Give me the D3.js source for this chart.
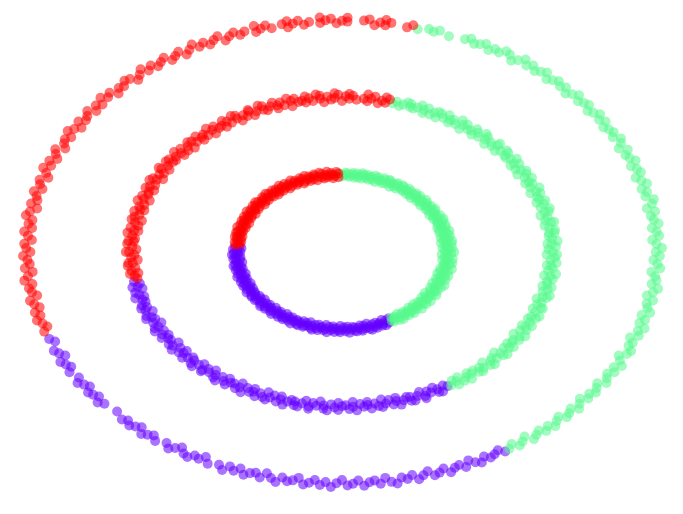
<!DOCTYPE html>
<html>
<head>
<meta charset="utf-8">
<style>
  html, body { margin: 0; padding: 0; background: #fff; overflow: hidden; }
</style>
<script src="https://cdn.jsdelivr.net/npm/d3@7"></script>
</head>
<body>
<script>
/***** Data : [angle (deg), radius], one array per class *****/
var classNames = ["purple", "green", "red"];
var classColors = ["#6400ff", "#55f98c", "#ff0000"];

var redPoints = [
  // inner ring
  [92,1.02],[92,0.97],[93,1.04],[94,0.99],[95,1.01],[95,0.96],[96,1.03],[97,1.00],[98,0.98],[98,1.05],
  [99,1.01],[100,0.97],[101,1.03],[101,0.99],[102,1.05],[103,1.00],[104,0.96],[105,1.02],[105,1.04],[106,0.98],
  [107,1.01],[108,0.97],[108,1.03],[109,1.00],[110,1.05],[111,0.98],[112,1.02],[112,0.96],[113,1.04],[114,1.00],
  [115,0.99],[116,1.03],[116,0.97],[117,1.01],[118,1.05],[119,0.98],[120,1.02],[121,1.00],[121,0.96],[122,1.04],
  [123,0.99],[124,1.02],[125,0.97],[125,1.05],[126,1.01],[127,0.98],[128,1.03],[129,1.00],[129,0.96],[130,1.04],
  [131,1.01],[132,0.97],[133,1.03],[133,0.99],[134,1.05],[135,1.00],[136,0.97],[137,1.02],[137,1.04],[138,0.98],
  [139,1.01],[140,0.96],[141,1.03],[141,1.00],[142,1.05],[143,0.98],[144,1.02],[145,0.97],[145,1.04],[146,1.00],
  [147,0.99],[148,1.03],[149,0.96],[149,1.01],[150,1.05],[151,0.98],[152,1.02],[153,1.00],[153,0.97],[154,1.04],
  [155,0.99],[156,1.02],[157,0.96],[157,1.04],[158,1.01],[159,0.98],[160,1.03],[161,1.00],[161,0.97],[162,1.05],
  [163,1.01],[164,0.98],[165,1.03],[165,0.99],[166,1.04],[167,1.00],[168,0.97],[169,1.02],[169,1.04],[170,0.98],
  [171,1.01],[172,0.97],[173,1.03],[173,1.00],[174,0.98],[175,1.02],
  // middle ring
  [77,2.03],[78,1.98],[78,2.05],[79,2.00],[80,1.96],[81,2.04],[82,2.01],[83,1.97],[83,2.06],[84,2.00],
  [86,1.98],[87,2.03],[88,2.05],[88,1.99],[89,2.02],[90,1.96],[91,2.04],[92,2.00],[92,2.06],[93,1.98],
  [94,2.02],[95,1.95],[96,2.04],[96,2.00],[97,2.06],[98,1.98],[99,2.02],[100,1.97],[100,2.05],[101,2.00],
  [102,1.99],[103,2.04],[104,1.95],[104,2.02],[105,2.06],[106,1.98],[107,2.03],[108,2.00],[108,1.96],[109,2.05],
  [110,2.01],[111,1.97],[112,2.04],[112,1.99],[113,2.06],[114,2.00],[115,1.96],[116,2.03],[116,2.05],[117,1.98],
  [118,2.01],[119,1.95],[120,2.04],[120,2.00],[121,2.06],[122,1.98],[123,2.02],[124,1.96],[124,2.05],[125,2.00],
  [126,1.99],[127,2.04],[128,1.95],[128,2.01],[129,2.06],[130,1.98],[131,2.02],[132,2.00],[132,1.96],[133,2.05],
  [134,1.99],[135,2.03],[136,1.95],[136,2.05],[137,2.01],[138,1.97],[139,2.04],[140,2.00],[140,1.96],[141,2.06],
  [142,2.01],[143,1.98],[144,2.04],[144,1.99],[145,2.05],[146,2.00],[147,1.96],[148,2.03],[148,2.06],[149,1.98],
  [150,2.01],[151,1.95],[152,2.04],[152,2.00],[153,2.06],[154,1.98],[155,2.02],[156,1.96],[156,2.05],[157,2.00],
  [158,1.99],[159,2.04],[160,1.95],[160,2.01],[161,2.06],[162,1.98],[163,2.02],[164,2.00],[164,1.96],[165,2.05],
  [166,1.99],[167,2.03],[168,1.95],[168,2.05],[169,2.01],[170,1.97],[171,2.04],[172,2.00],[172,1.96],[173,2.06],
  [174,2.01],[175,1.98],[176,2.04],[176,1.99],[177,2.05],[178,2.00],[179,1.96],[180,2.03],[180,2.06],[181,1.98],
  [182,2.01],[183,1.95],[184,2.04],[184,2.00],[185,2.05],[186,1.98],[187,2.02],[188,1.96],[188,2.04],[189,2.00],
  [190,1.98],
  // outer ring
  [77,3.02],[78,2.98],[81,3.01],[82,2.97],[82,3.04],[83,3.00],[84,2.96],[85,3.03],[86,3.01],[89,2.99],
  [89,3.04],[90,3.00],[91,2.97],[92,3.03],[93,3.01],[94,2.98],[94,3.05],[96,3.00],[97,2.97],[98,3.03],
  [99,3.00],[100,2.96],[100,3.04],[101,3.01],[103,2.98],[104,3.03],[105,3.00],[106,2.97],[106,3.05],[108,3.01],
  [109,2.98],[110,3.03],[111,3.00],[112,2.96],[113,3.04],[114,3.01],[115,2.97],[116,3.02],[117,2.99],[118,3.05],
  [119,3.00],[120,2.96],[121,3.03],[122,3.00],[123,2.97],[124,3.04],[125,3.01],[126,2.98],[127,3.03],[128,2.99],
  [129,3.05],[130,3.00],[131,2.96],[132,3.02],[133,3.04],[134,2.99],[135,3.01],[136,2.96],[137,3.03],[138,3.00],
  [139,3.05],[140,2.98],[141,3.02],[142,2.97],[143,3.04],[144,3.00],[145,2.98],[146,3.03],[147,2.96],[148,3.01],
  [149,3.05],[150,2.98],[151,3.02],[152,3.00],[153,2.96],[154,3.04],[155,3.01],[156,2.97],[157,3.03],[158,2.99],
  [159,3.05],[160,3.00],[161,2.96],[162,3.03],[163,3.01],[164,2.97],[165,3.04],[166,3.00],[167,2.98],[168,3.03],
  [169,2.96],[170,3.02],[171,3.05],[172,2.98],[173,3.01],[174,2.97],[175,3.04],[176,3.00],[177,2.96],[178,3.03],
  [179,3.01],[180,2.97],[181,3.04],[182,3.00],[183,2.98],[184,3.03],[185,2.96],[186,3.01],[187,3.05],[188,2.98],
  [189,3.02],[190,3.00],[191,2.96],[192,3.04],[193,3.01],[194,2.97],[195,3.03],[196,2.99],[197,3.04],[198,3.00],
  [199,2.97],[200,3.02]
];

var purplePoints = [
  // inner ring
  [176,0.98],[177,1.02],[177,0.96],[178,1.04],[179,1.00],[180,0.97],[181,1.03],[181,0.99],[182,1.05],[183,1.01],
  [184,0.97],[185,1.02],[185,1.04],[186,0.98],[187,1.01],[188,0.96],[189,1.03],[189,1.00],[190,1.05],[191,0.98],
  [192,1.02],[193,0.97],[193,1.04],[194,1.00],[195,0.99],[196,1.03],[197,0.96],[197,1.01],[198,1.05],[199,0.98],
  [200,1.02],[201,1.00],[201,0.97],[202,1.04],[203,0.99],[204,1.02],[205,0.96],[205,1.04],[206,1.01],[207,0.98],
  [208,1.03],[209,1.00],[209,0.97],[210,1.05],[211,1.01],[212,0.98],[213,1.03],[213,0.99],[214,1.04],[215,1.00],
  [216,0.97],[217,1.02],[217,1.04],[218,0.98],[219,1.01],[220,0.96],[221,1.03],[221,1.00],[222,1.05],[223,0.98],
  [224,1.02],[225,0.97],[225,1.04],[226,1.00],[227,0.99],[228,1.03],[229,0.96],[229,1.01],[230,1.05],[231,0.98],
  [232,1.02],[233,1.00],[233,0.97],[234,1.04],[235,0.99],[236,1.02],[237,0.96],[237,1.04],[238,1.01],[239,0.98],
  [240,1.03],[241,1.00],[241,0.97],[242,1.05],[243,1.01],[244,0.98],[245,1.03],[245,0.99],[246,1.04],[247,1.00],
  [248,0.97],[249,1.02],[249,1.04],[250,0.98],[251,1.01],[252,0.96],[253,1.03],[253,1.00],[254,1.05],[255,0.98],
  [256,1.02],[257,0.97],[257,1.04],[258,1.00],[259,0.99],[260,1.03],[261,0.96],[261,1.01],[262,1.05],[263,0.98],
  [264,1.02],[265,1.00],[265,0.97],[266,1.04],[267,0.99],[268,1.02],[269,0.96],[269,1.04],[270,1.01],[271,0.98],
  [272,1.03],[273,1.00],[273,0.97],[274,1.05],[275,1.01],[276,0.98],[277,1.03],[277,0.99],[278,1.04],[279,1.00],
  [280,0.97],[281,1.02],[281,1.04],[282,0.98],[283,1.01],[284,0.96],[285,1.03],[285,1.00],[286,1.05],[287,0.98],
  [288,1.02],[289,0.97],[289,1.04],[290,1.00],[291,0.99],[292,1.03],[293,0.96],[293,1.01],[294,1.04],[295,0.98],
  [296,1.02],[297,1.00],[297,0.97],
  // middle ring
  [191,2.02],[192,1.97],[193,2.05],[193,2.00],[194,1.96],[195,2.04],[196,2.01],[197,1.97],[197,2.06],[198,2.00],
  [199,1.98],[200,2.03],[201,2.05],[201,1.99],[202,2.02],[203,1.96],[204,2.04],[205,2.00],[205,2.06],[206,1.98],
  [207,2.02],[208,1.95],[209,2.04],[209,2.00],[210,2.06],[211,1.98],[212,2.02],[213,1.97],[213,2.05],[214,2.00],
  [215,1.99],[216,2.04],[217,1.95],[217,2.02],[218,2.06],[219,1.98],[220,2.03],[221,2.00],[221,1.96],[222,2.05],
  [223,2.01],[224,1.97],[225,2.04],[225,1.99],[226,2.06],[227,2.00],[228,1.96],[229,2.03],[229,2.05],[230,1.98],
  [231,2.01],[232,1.95],[233,2.04],[233,2.00],[234,2.06],[235,1.98],[236,2.02],[237,1.96],[237,2.05],[238,2.00],
  [239,1.99],[240,2.04],[241,1.95],[241,2.01],[242,2.06],[243,1.98],[244,2.02],[245,2.00],[245,1.96],[246,2.05],
  [247,1.99],[248,2.03],[249,1.95],[249,2.05],[250,2.01],[251,1.97],[252,2.04],[253,2.00],[253,1.96],[254,2.06],
  [255,2.01],[256,1.98],[257,2.04],[257,1.99],[258,2.05],[259,2.00],[260,1.96],[261,2.03],[261,2.06],[262,1.98],
  [263,2.01],[264,1.95],[265,2.04],[265,2.00],[266,2.06],[267,1.98],[268,2.02],[269,1.96],[269,2.05],[270,2.00],
  [271,1.99],[272,2.04],[273,1.95],[273,2.01],[274,2.06],[275,1.98],[276,2.02],[277,2.00],[277,1.96],[278,2.05],
  [279,1.99],[280,2.03],[281,1.95],[281,2.05],[282,2.01],[283,1.97],[284,2.04],[285,2.00],[285,1.96],[286,2.06],
  [287,2.01],[288,1.98],[289,2.04],[289,1.99],[290,2.05],[291,2.00],[292,1.96],[293,2.03],[293,2.06],[294,1.98],
  [295,2.01],[296,1.96],[297,2.04],[297,2.00],[298,2.05],[299,1.98],[300,2.01],
  // outer ring
  [202,3.01],[203,2.97],[205,3.03],[206,3.00],[207,2.96],[208,3.04],[209,3.01],[210,2.98],[211,3.03],[213,2.99],
  [214,3.04],[215,3.00],[216,2.97],[217,3.03],[218,3.01],[219,2.98],[220,3.04],[221,3.00],[224,2.98],[226,3.02],
  [227,2.99],[228,3.03],[229,3.00],[230,2.97],[231,3.04],[232,3.01],[233,2.98],[234,3.03],[236,2.99],[237,3.04],
  [238,3.00],[239,2.96],[240,3.02],[241,3.04],[242,2.99],[243,3.01],[244,2.96],[245,3.03],[247,3.00],[248,3.05],
  [249,2.98],[250,3.02],[251,2.97],[252,3.04],[253,3.00],[254,2.98],[255,3.03],[256,2.96],[257,3.01],[258,3.05],
  [259,2.98],[260,3.02],[261,3.00],[262,2.96],[263,3.04],[264,3.01],[265,2.97],[266,3.03],[267,2.99],[268,3.05],
  [269,3.00],[270,2.96],[271,3.03],[272,3.01],[273,2.97],[274,3.04],[275,3.00],[276,2.98],[277,3.03],[278,2.96],
  [279,3.02],[280,3.05],[281,2.98],[282,3.01],[283,2.97],[284,3.04],[285,3.00],[286,2.96],[287,3.03],[288,3.01],
  [289,2.97],[290,3.04],[291,3.00],[292,2.98],[293,3.03],[294,2.96],[295,3.01],[296,3.04],[297,2.98],[298,3.02],
  [299,3.00],[300,2.97],[301,3.02]
];

var greenPoints = [
  // inner ring
  [-62,1.01],[-61,0.97],[-61,1.03],[-60,1.00],[-59,0.98],[-58,1.04],[-57,0.96],[-57,1.01],[-56,1.05],[-55,0.98],
  [-54,1.02],[-53,1.00],[-53,0.97],[-52,1.04],[-51,0.99],[-50,1.02],[-49,0.96],[-49,1.05],[-48,1.01],[-47,0.98],
  [-46,1.03],[-45,1.00],[-45,0.96],[-44,1.06],[-43,1.01],[-42,0.97],[-41,1.03],[-41,0.99],[-40,1.05],[-39,1.00],
  [-38,0.96],[-37,1.02],[-37,1.06],[-36,0.98],[-35,1.01],[-34,0.95],[-33,1.03],[-33,1.00],[-32,1.06],[-31,0.98],
  [-30,1.02],[-29,0.96],[-29,1.04],[-28,1.00],[-27,0.99],[-26,1.05],[-25,0.95],[-25,1.01],[-24,1.07],[-23,0.98],
  [-22,1.02],[-21,1.00],[-21,0.96],[-20,1.05],[-19,0.99],[-18,1.03],[-17,0.95],[-17,1.06],[-16,1.01],[-15,0.97],
  [-14,1.04],[-13,1.00],[-13,0.96],[-12,1.07],[-11,1.01],[-10,0.98],[-9,1.04],[-9,0.99],[-8,1.06],[-7,1.00],
  [-6,0.96],[-5,1.02],[-5,1.06],[-4,0.98],[-3,1.01],[-2,0.95],[-1,1.04],[-1,1.00],[0,1.07],[1,0.98],
  [2,1.02],[3,0.96],[3,1.05],[4,1.00],[5,0.99],[6,1.05],[7,0.95],[7,1.01],[8,1.06],[9,0.98],
  [10,1.03],[11,1.00],[11,0.96],[12,1.05],[13,0.99],[14,1.03],[15,0.96],[15,1.06],[16,1.01],[17,0.97],
  [18,1.04],[19,1.00],[19,0.96],[20,1.05],[21,1.01],[22,0.98],[23,1.04],[23,0.99],[24,1.06],[25,1.00],
  [26,0.97],[27,1.02],[27,1.05],[28,0.98],[29,1.01],[30,0.96],[31,1.03],[31,1.00],[32,1.05],[33,0.98],
  [34,1.02],[35,0.97],[35,1.04],[36,1.00],[37,0.99],[38,1.03],[39,0.96],[39,1.01],[40,1.05],[41,0.98],
  [42,1.02],[43,1.00],[43,0.97],[44,1.04],[45,0.99],[46,1.02],[47,0.96],[47,1.04],[48,1.01],[49,0.98],
  [50,1.03],[51,1.00],[51,0.97],[52,1.04],[53,1.01],[54,0.98],[55,1.03],[55,0.99],[56,1.04],[57,1.00],
  [58,0.97],[59,1.02],[59,1.04],[60,0.98],[61,1.01],[62,0.96],[63,1.03],[63,1.00],[64,1.04],[65,0.98],
  [66,1.02],[67,0.97],[67,1.04],[68,1.00],[69,0.99],[70,1.03],[71,0.96],[71,1.01],[72,1.04],[73,0.98],
  [74,1.02],[75,1.00],[75,0.97],[76,1.03],[77,0.99],[78,1.02],[79,0.97],[79,1.04],[80,1.01],[81,0.98],
  [82,1.03],[83,1.00],[83,0.97],[84,1.03],[85,1.01],[86,0.98],[87,1.02],[87,0.99],[88,1.03],[89,1.00],
  [90,0.98],[91,1.02],
  // middle ring
  [-59,2.02],[-58,1.97],[-57,2.05],[-57,2.00],[-56,1.96],[-55,2.04],[-54,2.01],[-53,1.97],[-53,2.06],[-52,2.00],
  [-51,1.98],[-50,2.03],[-49,2.05],[-49,1.99],[-48,2.02],[-47,1.96],[-46,2.04],[-45,2.00],[-45,2.06],[-44,1.98],
  [-43,2.02],[-42,1.95],[-41,2.04],[-41,2.00],[-40,2.06],[-39,1.98],[-38,2.02],[-37,1.97],[-37,2.05],[-36,2.00],
  [-35,1.99],[-34,2.04],[-33,1.95],[-33,2.02],[-32,2.06],[-31,1.98],[-30,2.03],[-29,2.00],[-29,1.96],[-28,2.05],
  [-27,2.01],[-26,1.97],[-25,2.04],[-25,1.99],[-24,2.06],[-23,2.00],[-22,1.96],[-21,2.03],[-21,2.05],[-20,1.98],
  [-19,2.01],[-18,1.95],[-17,2.04],[-17,2.00],[-16,2.06],[-15,1.98],[-14,2.02],[-13,1.96],[-13,2.05],[-12,2.00],
  [-11,1.99],[-10,2.04],[-9,1.95],[-9,2.01],[-8,2.06],[-7,1.98],[-6,2.02],[-5,2.00],[-5,1.96],[-4,2.05],
  [-3,1.99],[-2,2.03],[-1,1.95],[-1,2.05],[0,2.01],[1,1.97],[2,2.04],[3,2.00],[3,1.96],[4,2.06],
  [5,2.01],[6,1.98],[7,2.04],[7,1.99],[8,2.05],[9,2.00],[10,1.96],[11,2.03],[11,2.06],[12,1.98],
  [13,2.01],[14,1.95],[15,2.04],[15,2.00],[16,2.06],[17,1.98],[18,2.02],[19,1.96],[19,2.05],[20,2.00],
  [21,1.99],[22,2.04],[23,1.95],[23,2.01],[24,2.06],[25,1.98],[26,2.02],[27,2.00],[27,1.96],[28,2.05],
  [29,1.99],[30,2.03],[31,1.95],[31,2.05],[32,2.01],[33,1.97],[34,2.04],[35,2.00],[35,1.96],[36,2.06],
  [37,2.01],[38,1.98],[39,2.04],[39,1.99],[40,2.05],[41,2.00],[42,1.96],[43,2.03],[43,2.06],[44,1.98],
  [45,2.01],[46,1.95],[47,2.04],[47,2.00],[48,2.06],[49,1.98],[50,2.02],[51,1.96],[51,2.05],[52,2.00],
  [53,1.99],[54,2.04],[55,1.95],[55,2.01],[56,2.06],[57,1.98],[58,2.02],[59,2.00],[59,1.96],[60,2.05],
  [61,1.99],[62,2.03],[63,1.96],[63,2.04],[64,2.01],[65,1.97],[66,2.04],[67,2.00],[67,1.96],[68,2.05],
  [69,2.01],[70,1.98],[71,2.03],[71,1.99],[72,2.04],[73,2.00],[74,1.97],[75,2.02],[76,1.99],
  // outer ring
  [-58,3.01],[-57,2.97],[-56,3.03],[-55,3.00],[-54,2.96],[-53,3.04],[-52,3.01],[-51,2.98],[-50,3.03],[-49,2.99],
  [-48,3.04],[-47,3.00],[-46,2.97],[-45,3.03],[-44,3.01],[-43,2.98],[-42,3.04],[-41,3.00],[-40,2.96],[-39,3.02],
  [-38,2.99],[-37,3.03],[-36,3.00],[-35,2.97],[-34,3.04],[-33,3.01],[-32,2.98],[-31,3.03],[-30,2.99],[-29,3.05],
  [-28,3.00],[-27,2.96],[-26,3.02],[-25,3.04],[-24,2.99],[-23,3.01],[-22,2.96],[-21,3.03],[-20,3.00],[-19,3.05],
  [-18,2.98],[-17,3.02],[-16,2.97],[-15,3.04],[-14,3.00],[-13,2.98],[-12,3.03],[-11,2.96],[-10,3.01],[-9,3.05],
  [-8,2.98],[-7,3.02],[-6,3.00],[-5,2.96],[-4,3.04],[-3,3.01],[-2,2.97],[-1,3.03],[0,2.99],[1,3.05],
  [2,3.00],[3,2.96],[4,3.03],[5,3.01],[6,2.97],[7,3.04],[8,3.00],[9,2.98],[10,3.03],[11,2.96],
  [12,3.02],[13,3.05],[14,2.98],[15,3.01],[16,2.97],[17,3.04],[18,3.00],[19,2.96],[20,3.03],[21,3.01],
  [22,2.97],[23,3.04],[24,3.00],[25,2.98],[26,3.03],[27,2.96],[28,3.01],[29,3.04],[30,2.98],[31,3.02],
  [32,3.00],[33,2.97],[34,3.03],[35,2.99],[36,3.04],[37,3.00],[38,2.97],[39,3.03],[40,3.01],[41,2.98],
  [42,3.04],[43,3.00],[44,2.96],[45,3.02],[46,2.99],[47,3.03],[48,3.00],[49,2.97],[50,3.04],[51,3.01],
  [52,2.98],[53,3.03],[54,2.99],[55,3.05],[56,3.00],[57,2.96],[58,3.02],[59,3.04],[60,2.99],[61,3.01],
  [62,2.97],[63,3.03],[64,3.00],[65,2.98],[66,3.03],[67,3.00],[70,2.98],[72,3.02],[73,2.99],[74,3.01],
  [76,2.98]
];

(function (d3) {
  "use strict";

  /***** Configuration *****/
  var width = 683;
  var height = 514;
  var dotRadius = 5;
  var dotOpacity = 0.55;

  /***** Scales *****/
  var xScale = d3.scaleLinear().domain([-3.25, 3.25]).range([1, 683]);
  var yScale = d3.scaleLinear().domain([-3.27, 3.27]).range([504, 0]);
  var colorScale = d3.scaleOrdinal().domain(classNames).range(classColors);

  var svg = d3.select("body")
      .append("svg")
      .attr("width", width)
      .attr("height", height);

  function toXY(p) {
    var a = p[0] * Math.PI / 180;
    return { x: p[1] * Math.cos(a), y: p[1] * Math.sin(a) };
  }

  function drawClass(name, points) {
    svg.append("g")
        .attr("class", "class-" + name)
      .selectAll("circle")
      .data(points.map(toXY))
      .join("circle")
        .attr("cx", function (d) { return xScale(d.x); })
        .attr("cy", function (d) { return yScale(d.y); })
        .attr("r", dotRadius)
        .attr("fill", colorScale(name))
        .attr("fill-opacity", dotOpacity);
  }

  drawClass("purple", purplePoints);
  drawClass("green", greenPoints);
  drawClass("red", redPoints);

})(d3);
</script>
</body>
</html>
